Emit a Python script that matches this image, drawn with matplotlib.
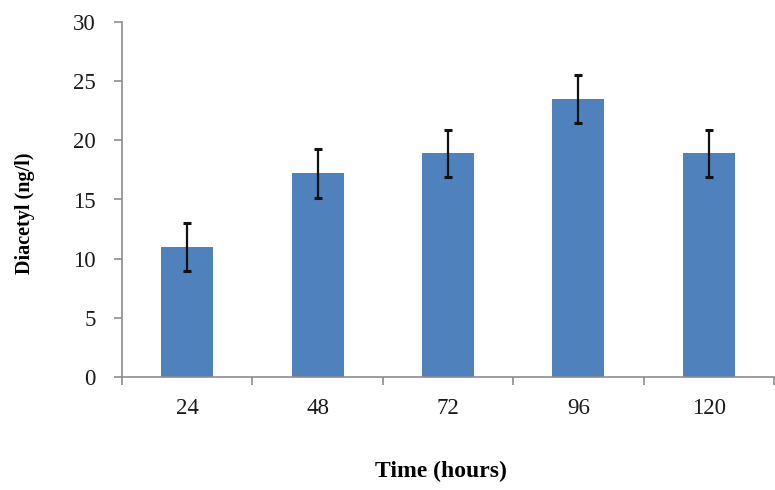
import numpy as np
import matplotlib
matplotlib.use("Agg")
import matplotlib.pyplot as plt

# data
hours = ["24", "48", "72", "96", "120"]
diacetyl = [11.0, 17.2, 18.9, 23.5, 18.9]
errors = [2.0, 2.05, 2.0, 2.05, 2.0]

plt.rcParams['font.family'] = ['Liberation Serif', 'DejaVu Serif']

fig = plt.figure(figsize=(7.75, 4.9), dpi=100)
ax = fig.add_axes([122 / 775, 1 - 377 / 490, 652 / 775, 355 / 490])

x = np.arange(len(hours))
ax.bar(x, diacetyl, width=0.4, color='#4F81BD', zorder=2)
ax.errorbar(x, diacetyl, yerr=errors, fmt='none', ecolor='#111111',
            elinewidth=1.6, capsize=3, capthick=2.2, zorder=3)

ax.set_xlim(-0.5, len(hours) - 0.5)
ax.set_ylim(0, 30)
ax.set_yticks(np.arange(0, 31, 5))
ax.set_xticks(x)
ax.set_xticklabels(hours)
ax.set_xticks(np.arange(-0.5, len(hours), 1), minor=True)

for s in ['top', 'right']:
    ax.spines[s].set_visible(False)
for s in ['left', 'bottom']:
    ax.spines[s].set_color('#8c8c8c')
    ax.spines[s].set_linewidth(1.2)

ax.tick_params(axis='x', which='major', length=0, pad=15, labelsize=16.5, colors='#1a1a1a')
ax.tick_params(axis='x', which='minor', length=6, color='#8c8c8c', width=1.2)
ax.tick_params(axis='y', length=6, color='#8c8c8c', width=1.2, pad=13,
               labelsize=16.5, labelcolor='#1a1a1a')

fig.text(25 / 775, 1 - 213 / 490, 'Diacetyl (ng/l)', rotation=90, fontsize=14.5,
         fontweight='bold', ha='center', va='center')
fig.text(441 / 775, 1 - 471 / 490, 'Time (hours)', fontsize=17,
         fontweight='bold', ha='center', va='center')

fig.savefig('out.png', dpi=100)
